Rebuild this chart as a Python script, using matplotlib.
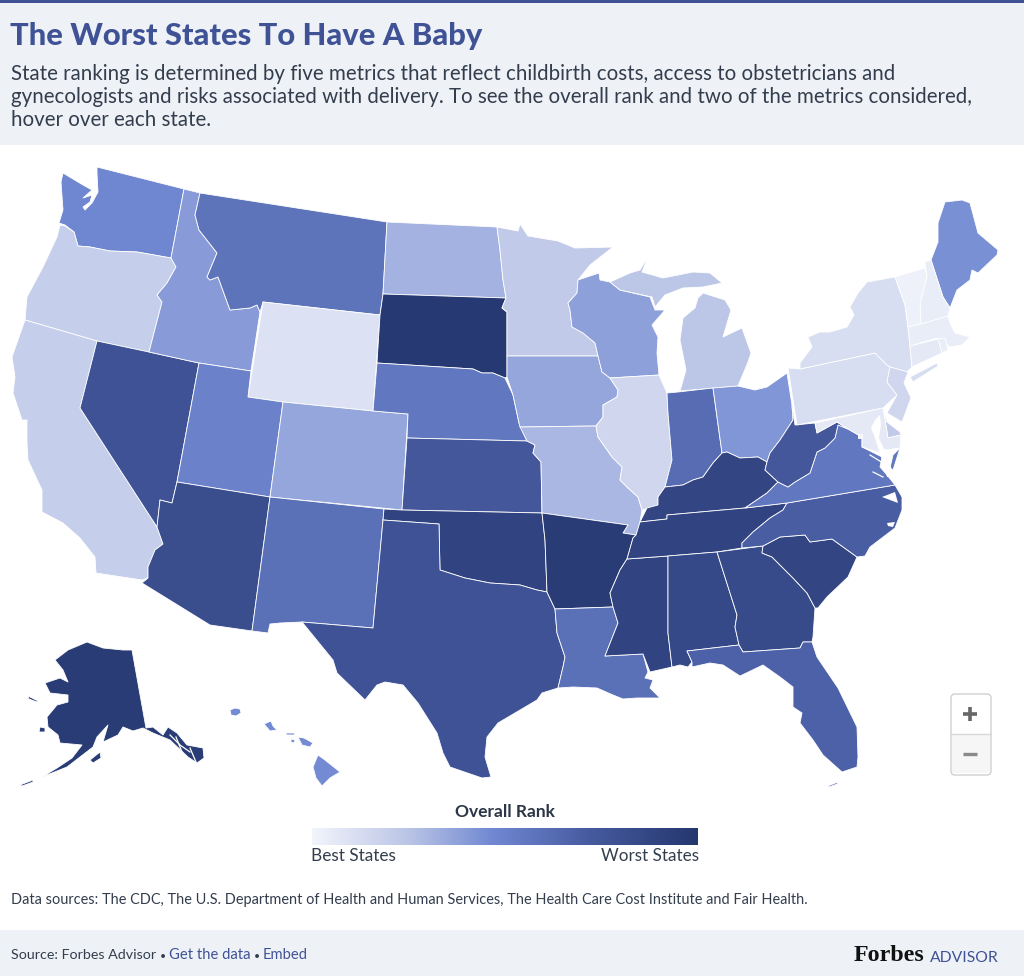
import numpy as np
import matplotlib
matplotlib.use("Agg")
import matplotlib.pyplot as plt
from matplotlib.colors import LinearSegmentedColormap, Normalize
from matplotlib.patches import Polygon, Rectangle, FancyBboxPatch

# ---------- data: overall rank (1 = best, 51 = worst)
STATES = ["WA","OR","CA","NV","ID","MT","WY","UT","AZ","CO","NM","ND","SD","NE","KS","OK","TX",
          "MN","IA","MO","AR","LA","WI","IL","MS","MI","IN","OH","KY","TN","AL","GA","FL","SC",
          "NC","VA","WV","PA","NY","ME","NH","VT","MA","RI","CT","NJ","DE","MD","DC","AK","HI"]
RANKS = [25,11,11,40,21,30,6,26,42,19,31,17,50,29,38,46,40,
         12,19,16,49,31,20,9,46,13,32,22,45,46,44,43,35,45,
         36,29,38,7,7,23,3,2,3,3,4,9,12,4,1,49,24]
TICK_LABELS = ["Best States", "Worst States"]

# ---------- base-map geometry (outline of each state on the page)
SHAPES = {
"WA":[[(97,167),(184,189),(171,258),(137,252),(110,251),(90,247),(78,246),(74,232),(65,225),(59,223),(63,210),(61,182),(63,173),(83,185),(92,190),(83,198),(92,195),(90,202),(83,207),(85,210),(92,203),(98,192),(97,173)]],
"OR":[[(60,225),(65,226),(74,232),(78,246),(90,247),(110,251),(137,252),(171,258),(176,267),(167,283),(157,295),(162,302),(149,352),(97,341),(25,320),(27,297),(43,267),(57,237)]],
"CA":[[(25,320),(97,341),(80,408),(157,527),(163,544),(155,550),(148,567),(148,578),(142,580),(96,573),(95,557),(80,538),(63,523),(42,512),(42,490),(28,460),(27,443),(27,420),(22,420),(13,393),(15,377),(12,357)]],
"NV":[[(97,341),(149,352),(199,363),(177,482),(172,503),(168,502),(160,500),(157,527),(80,408)]],
"ID":[[(184,189),(200,193),(195,215),(199,230),(217,253),(207,277),(210,280),(218,277),(230,310),(250,308),(257,305),(260,312),(251,371),(199,363),(149,352),(162,302),(157,295),(167,283),(176,267),(171,258)]],
"MT":[[(200,193),(387,222),(383,294),(380,315),(263,302),(260,312),(257,305),(250,308),(230,310),(218,277),(210,280),(207,277),(217,253),(199,230),(195,215)]],
"WY":[[(263,302),(380,315),(373,411),(283,402),(248,397)]],
"UT":[[(199,363),(251,371),(248,397),(283,402),(270,497),(177,482)]],
"AZ":[[(177,482),(270,497),(252,631),(210,625),(142,583),(148,578),(148,567),(155,550),(163,544),(157,527),(160,500),(168,502),(172,503)]],
"CO":[[(283,402),(373,411),(408,414),(402,510),(270,497)]],
"NM":[[(270,497),(384,509),(383,520),(373,628),(302,622),(280,623),(270,624),(268,633),(252,631)]],
"ND":[[(387,222),(497,227),(500,250),(503,280),(506,298),(383,294)]],
"SD":[[(383,294),(506,298),(502,308),(507,312),(507,377),(505,378),(493,373),(482,373),(473,369),(377,363),(380,315)]],
"NE":[[(377,363),(473,369),(482,373),(493,373),(505,378),(513,395),(519,423),(527,441),(407,438),(408,414),(373,411)]],
"KS":[[(407,438),(527,441),(535,445),(533,453),(541,462),(542,513),(402,510)]],
"OK":[[(384,509),(402,510),(542,513),(545,540),(547,592),(537,590),(520,585),(490,583),(465,578),(440,570),(439,524),(383,520)]],
"TX":[[(383,520),(439,524),(440,570),(465,578),(490,583),(520,585),(537,590),(547,592),(555,609),(557,633),(565,657),(563,667),(558,688),(542,693),(537,700),(498,723),(487,737),(485,757),(491,777),(482,778),(450,767),(443,753),(437,733),(418,703),(403,685),(385,682),(377,685),(365,700),(337,673),(333,660),(302,622),(373,628)]],
"MN":[[(497,227),(518,231),(520,224),(528,236),(558,241),(575,248),(613,247),(590,265),(578,280),(577,293),(568,303),(570,310),(572,327),(583,333),(595,343),(598,356),(507,356),(507,312),(502,308),(506,298),(503,280),(500,250)]],
"IA":[[(507,356),(598,356),(602,372),(610,378),(618,390),(617,397),(603,405),(603,417),(596,426),(520,427),(519,423),(513,395),(507,377)]],
"MO":[[(520,427),(596,426),(598,437),(612,457),(622,467),(620,480),(628,488),(638,497),(642,510),(640,522),(636,535),(623,533),(628,525),(542,513),(541,462),(533,453),(535,445),(527,441)]],
"AR":[[(542,513),(628,525),(623,533),(636,535),(633,538),(627,559),(620,570),(610,593),(613,607),(555,609),(547,592),(545,540)]],
"LA":[[(555,609),(613,607),(618,623),(605,656),(643,654),(648,672),(645,678),(653,680),(650,688),(660,698),(637,698),(623,699),(613,695),(597,688),(573,687),(558,688),(563,667),(565,657),(557,633)]],
"WI":[[(578,280),(599,273),(600,280),(610,282),(620,290),(650,297),(655,310),(665,310),(652,325),(658,337),(657,353),(659,375),(610,378),(602,372),(598,356),(595,343),(583,333),(572,327),(570,310),(568,303),(577,293)]],
"IL":[[(610,378),(659,375),(667,393),(668,413),(672,460),(665,487),(658,497),(658,505),(642,510),(638,497),(628,488),(620,480),(622,467),(612,457),(598,437),(596,426),(603,417),(603,405),(617,397),(618,390)]],
"MS":[[(627,559),(668,556),(668,633),(672,667),(650,672),(643,654),(605,656),(618,623),(613,607),(610,593),(620,570)]],
"MI":[[(703,293),(725,300),(731,310),(723,337),(742,328),(751,353),(748,362),(738,386),(680,391),(686,370),(680,340),(683,318),(695,308),(698,298)],
      [(610,282),(630,273),(640,270),(648,257),(642,272),(663,278),(693,272),(710,273),(722,283),(703,287),(683,288),(665,295),(655,307),(652,297),(620,290)]],
"IN":[[(667,393),(678,392),(713,388),(722,453),(713,463),(703,477),(693,480),(683,485),(665,487),(672,460),(668,413)]],
"OH":[[(713,388),(738,386),(755,390),(767,387),(787,373),(792,405),(793,420),(780,440),(770,453),(767,462),(758,457),(740,458),(727,452),(722,453)]],
"KY":[[(665,487),(683,485),(693,480),(703,477),(713,463),(722,453),(727,452),(740,458),(758,457),(767,462),(765,470),(778,482),(767,493),(745,508),(667,515),(667,519),(640,522),(647,508),(658,505),(658,497)]],
"TN":[[(667,515),(745,508),(787,503),(783,510),(770,518),(753,532),(742,543),(742,548),(717,552),(668,556),(627,559),(633,538),(636,535),(640,522),(667,519)]],
"AL":[[(668,556),(717,552),(737,615),(735,627),(739,645),(687,651),(692,662),(688,667),(680,665),(672,667),(668,633)]],
"GA":[[(717,552),(763,546),(762,553),(772,557),(793,578),(807,593),(815,608),(813,637),(812,642),(803,642),(800,648),(743,652),(739,645),(735,627),(737,615)]],
"FL":[[(687,651),(739,645),(743,652),(800,648),(803,642),(812,642),(817,657),(838,688),(857,727),(858,757),(857,767),(842,772),(823,755),(813,740),(800,723),(802,713),(793,707),(793,687),(780,677),(763,665),(740,676),(723,665),(710,663),(692,667),(692,662)],
      [(828,786),(838,782),(837,784),(829,787)]],
"SC":[[(763,546),(780,537),(805,535),(810,542),(832,539),(857,557),(848,577),(827,597),(818,608),(815,608),(807,593),(793,578),(772,557),(762,553)]],
"NC":[[(787,503),(895,485),(902,497),(902,510),(895,528),(870,547),(865,556),(857,557),(832,539),(810,542),(805,535),(780,537),(763,546),(742,548),(742,543),(753,532),(770,518),(783,510)]],
"VA":[[(778,482),(788,487),(795,482),(810,473),(817,452),(825,448),(835,438),(838,425),(848,429),(862,437),(862,447),(882,457),(880,467),(887,475),(895,485),(787,503),(745,508),(767,493)],
      [(900,448),(893,455),(890,468),(893,470)]],
"WV":[[(792,405),(795,425),(815,423),(817,433),(837,422),(848,429),(838,425),(835,438),(825,448),(817,452),(810,473),(795,482),(788,487),(778,482),(765,470),(767,462),(770,453),(780,440),(793,420)]],
"PA":[[(788,368),(800,369),(875,353),(887,365),(890,367),(887,382),(897,395),(883,408),(797,425)]],
"NY":[[(895,277),(905,305),(908,327),(912,367),(907,372),(890,367),(887,365),(875,353),(800,369),(800,363),(812,347),(808,337),(820,332),(830,332),(847,327),(854,315),(850,307),(858,293),(867,282)],
      [(910,377),(937,363),(938,366),(913,382)]],
"ME":[[(945,202),(962,200),(970,203),(978,233),(998,250),(997,255),(978,273),(972,270),(970,280),(957,290),(950,308),(943,297),(931,260),(938,242),(938,223)]],
"NH":[[(925,262),(931,260),(943,297),(950,308),(948,316),(921,324),(920,303),(927,277)]],
"VT":[[(895,277),(925,268),(927,277),(920,303),(921,324),(908,327),(905,305)]],
"MA":[[(908,327),(921,324),(948,316),(950,323),(955,333),(970,337),(962,345),(950,347),(937,338),(910,346)]],
"CT":[[(910,346),(938,339),(942,353),(912,367)]],
"RI":[[(938,339),(945,338),(948,350),(942,353)]],
"NJ":[[(890,367),(908,372),(904,383),(911,398),(902,422),(887,413),(897,395),(887,382)]],
"DE":[[(883,408),(887,422),(900,432),(901,435),(888,438)]],
"MD":[[(815,423),(883,408),(888,438),(901,435),(900,448),(893,449),(883,452),(877,452),(862,447),(862,437),(848,429),(837,422),(817,433)]],
"DC":[[(858,434),(862,434),(862,438),(858,438)]],
"AK":[[(132,650),(146,728),(153,727),(163,735),(168,727),(177,733),(187,745),(203,748),(204,758),(197,763),(188,757),(170,740),(153,733),(143,728),(133,731),(123,727),(118,735),(103,742),(108,725),(97,737),(93,747),(80,757),(67,767),(42,777),(57,768),(72,758),(82,745),(60,743),(58,735),(48,727),(47,717),(57,705),(68,702),(68,695),(50,693),(45,683),(60,678),(68,682),(63,670),(55,660),(68,650),(87,642),(103,648),(123,650)],
      [(90,760),(100,752),(101,758),(93,763)],[(40,727),(45,728),(45,732),(39,732)],[(28,696),(38,701),(37,702),(29,699)],[(20,785),(33,780),(33,782),(22,786)]],
"HI":[[(230,710),(235,708),(240,709),(241,713),(236,716),(231,715)],[(264,724),(271,721),(273,726),(277,730),(270,731)],[(298,737),(304,738),(313,743),(310,747),(302,745)],
      [(285,733),(294,733),(295,735),(287,735)],[(291,739),(295,740),(294,743),(291,742)],[(318,755),(325,760),(340,772),(330,778),(322,786),(316,778),(313,767)]],
}
# Water shown over the map (bays and sounds)
WATER = [
    [(875,420),(871,428),(875,438),(878,448),(884,465),(887,477),(893,476),(890,462),(893,450),(884,449),(879,438),(881,425),(880,415)],
    [(882,497),(895,492),(898,503),(890,500)],
    [(887,523),(895,522),(893,527),(888,526)],
]
RIVERS = [[(870,455),(883,463)], [(873,472),(883,477)]]
AK_CHANNELS = [[(170,735),(180,745),(190,752)], [(176,737),(184,757)], [(190,748),(196,762)]]

# ---------- scale
cmap = LinearSegmentedColormap.from_list("rank", [(0,"#F2F5FB"),(0.25,"#BAC4E6"),(0.47,"#7088D2"),(0.72,"#465A9F"),(1,"#25376F")])
norm = Normalize(1, 51)

plt.rcParams['font.family'] = ['Lato', 'DejaVu Sans']
fig = plt.figure(figsize=(10.24, 9.76), dpi=100, facecolor="white")
ax = fig.add_axes([0, 0, 1, 1])
ax.set_xlim(0, 1024); ax.set_ylim(976, 0); ax.axis("off")

# header / footer bands
ax.add_patch(Rectangle((0, 0), 1024, 145, fc="#EEF2F7", ec="none"))
ax.add_patch(Rectangle((0, 0), 1024, 3, fc="#3F5296", ec="none"))
ax.add_patch(Rectangle((0, 930), 1024, 46, fc="#EEF2F7", ec="none"))

# map
for st, rank in zip(STATES, RANKS):
    for pts in SHAPES[st]:
        ax.add_patch(Polygon(pts, closed=True, fc=cmap(norm(rank)), ec="white", lw=0.6, joinstyle="round", zorder=2))
for pts in WATER:
    ax.add_patch(Polygon(pts, closed=True, fc="white", ec="none", zorder=3))
for seg in RIVERS + AK_CHANNELS:
    xs, ys = zip(*seg)
    ax.plot(xs, ys, color="white", lw=0.9, zorder=3)

# legend
ax.text(505, 817, "Overall Rank", ha="center", va="baseline", fontsize=12.5, fontweight="bold", color="#2B3646")
grad = np.linspace(1, 51, 256).reshape(1, -1)
ax.imshow(grad, extent=(312, 698, 845, 828), cmap=cmap, norm=norm, aspect="auto", zorder=2)
ax.set_xlim(0, 1024); ax.set_ylim(976, 0)
ax.text(311, 861, TICK_LABELS[0], ha="left", va="baseline", fontsize=12.4, color="#333D4D")
ax.text(699, 861, TICK_LABELS[1], ha="right", va="baseline", fontsize=12.3, color="#333D4D")

# texts
ax.text(10, 45, "The Worst States To Have A Baby", fontsize=22.2, fontweight=900, color="#3F5296", va="baseline")
for y, line in zip((80, 103, 126), ("State ranking is determined by five metrics that reflect childbirth costs, access to obstetricians and",
                                     "gynecologists and risks associated with delivery. To see the overall rank and two of the metrics considered,",
                                     "hover over each state.")):
    ax.text(11, y, line, fontsize=14.8, color="#333D4D", va="baseline")
ax.text(11, 904, "Data sources: The CDC, The U.S. Department of Health and Human Services, The Health Care Cost Institute and Fair Health.",
        fontsize=10.45, color="#333D4D", va="baseline")
ax.text(11, 959, "Source: Forbes Advisor", fontsize=10.3, color="#333D4D", va="baseline")
ax.text(160, 959, "•", fontsize=7.5, color="#333D4D", va="baseline")
ax.text(169, 959, "Get the data", fontsize=10.6, color="#3F5296", va="baseline")
ax.text(254, 959, "•", fontsize=7.5, color="#333D4D", va="baseline")
ax.text(263, 959, "Embed", fontsize=10.6, color="#3F5296", va="baseline")
ax.text(854, 961, "Forbes", fontsize=17.3, fontweight="bold", family="Liberation Serif", color="#111111", va="baseline")
ax.text(930, 962, "ADVISOR", fontsize=11.3, color="#3F5296", va="baseline")

# zoom control
ax.add_patch(FancyBboxPatch((951, 694), 40, 81, boxstyle="round,pad=0,rounding_size=4", fc="white", ec="#D0D0D0", lw=1, zorder=4))
ax.add_patch(Rectangle((952, 735), 38, 38, fc="#F6F6F6", ec="none", zorder=5))
ax.plot([951, 991], [734, 734], color="#D8D8D8", lw=1, zorder=6)
ax.plot([963, 977], [714, 714], color="#666666", lw=2.6, zorder=6, solid_capstyle="butt")
ax.plot([970, 970], [707, 721], color="#666666", lw=2.6, zorder=6, solid_capstyle="butt")
ax.plot([963, 977], [754, 754], color="#8A8A8A", lw=2.4, zorder=6, solid_capstyle="butt")

fig.savefig("out.png", dpi=100)
